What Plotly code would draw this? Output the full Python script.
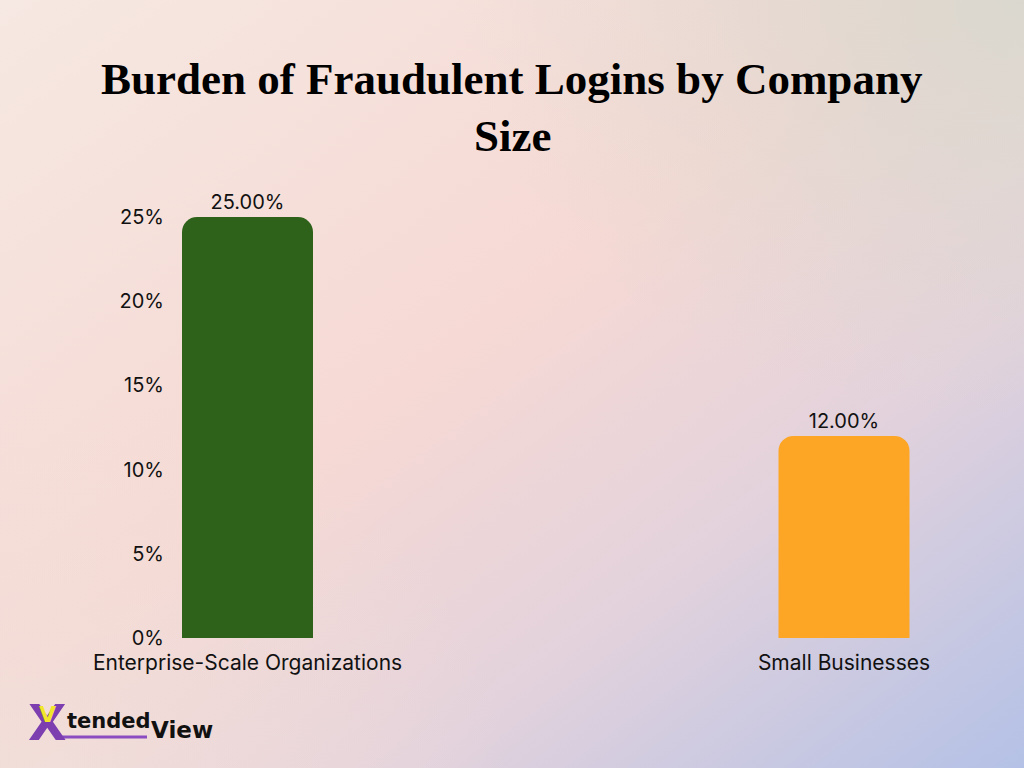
import base64
import plotly.graph_objects as go

categories = ["Enterprise-Scale Organizations", "Small Businesses"]
values = [25.0, 12.0]
bar_colors = ["#2E621A", "#FDA524"]
value_labels = ["25.00%", "12.00%"]
y_tickvals = [0, 5, 10, 15, 20, 25]
y_ticktext = ["0%", "5%", "10%", "15%", "20%", "25%"]

W, H = 1024, 768
L, R, T, B = 170, 24, 180, 130
pw, ph = W - L - R, H - T - B

svg = f'''<svg xmlns="http://www.w3.org/2000/svg" width="{W}" height="{H}" viewBox="0 0 {W} {H}">
<defs>
<linearGradient id="g" x1="0" y1="0" x2="1" y2="1">
<stop offset="0" stop-color="#F6E8E2"/>
<stop offset="0.45" stop-color="#F6D9D4"/>
<stop offset="0.7" stop-color="#E3D2DC"/>
<stop offset="1" stop-color="#B4C1E6"/>
</linearGradient>
<radialGradient id="r" cx="1" cy="0" r="0.55">
<stop offset="0" stop-color="#D9D8CE" stop-opacity="0.95"/>
<stop offset="1" stop-color="#D9D8CE" stop-opacity="0"/>
</radialGradient>
<radialGradient id="bl" cx="0" cy="1" r="0.5">
<stop offset="0" stop-color="#F1E0DA" stop-opacity="0.7"/>
<stop offset="1" stop-color="#F1E0DA" stop-opacity="0"/>
</radialGradient>
</defs>
<rect width="{W}" height="{H}" fill="url(#g)"/>
<rect width="{W}" height="{H}" fill="url(#r)"/>
<rect width="{W}" height="{H}" fill="url(#bl)"/>
</svg>'''
bg_uri = "data:image/svg+xml;base64," + base64.b64encode(svg.encode()).decode()

# x mapping: category 0 center at px 247.5, category 1 at px 844
unit = 844 - 247.5
x0 = -(247.5 - L) / unit
x1 = x0 + pw / unit
# y mapping: 0 at px 638, 25 at px 217
ypx = (638 - 217) / 25.0
ytop = ph / ypx

fig = go.Figure()
fig.add_trace(go.Bar(
    x=list(range(len(categories))),
    y=values,
    marker=dict(color=bar_colors, cornerradius=15, line=dict(width=0)),
    width=131 / unit,
    text=value_labels,
    textposition="outside",
    textfont=dict(family="Inter", size=20, color="#111111"),
    cliponaxis=False,
    hoverinfo="skip",
))

def px2paper_x(px):
    return (px - L) / pw

def px2paper_y(py):
    return (H - B - py) / ph

ann = []
for text, ycen in [("Burden of Fraudulent Logins by Company", 79), ("Size", 136)]:
    ann.append(dict(
        text=text, xref="paper", yref="paper",
        x=px2paper_x(512), y=px2paper_y(ycen),
        xanchor="center", yanchor="middle", showarrow=False,
        font=dict(family="Liberation Serif", size=45, color="#000000", weight=900),
    ))

# Logo
ann.append(dict(text="X", xref="paper", yref="paper", x=px2paper_x(48), y=px2paper_y(723),
                xanchor="center", yanchor="middle", showarrow=False,
                font=dict(family="DejaVu Sans", size=50, color="#7D3FB0", weight="bold")))
ann.append(dict(text="V", xref="paper", yref="paper", x=px2paper_x(48), y=px2paper_y(714),
                xanchor="center", yanchor="middle", showarrow=False,
                font=dict(family="DejaVu Sans", size=22, color="#F2E62A", weight="bold")))
ann.append(dict(text="tended", xref="paper", yref="paper", x=px2paper_x(65), y=px2paper_y(721),
                xanchor="left", yanchor="middle", showarrow=False,
                font=dict(family="DejaVu Sans", size=21, color="#111111", weight="bold")))
ann.append(dict(text="View", xref="paper", yref="paper", x=px2paper_x(149), y=px2paper_y(730),
                xanchor="left", yanchor="middle", showarrow=False,
                font=dict(family="DejaVu Sans", size=23, color="#111111", weight="bold")))

shapes = [
    dict(type="line", xref="paper", yref="paper",
         x0=px2paper_x(62), x1=px2paper_x(147), y0=px2paper_y(737), y1=px2paper_y(737),
         line=dict(color="#8A4CC0", width=3)),
]

fig.update_layout(
    width=W, height=H,
    margin=dict(l=L, r=R, t=T, b=B, pad=0),
    paper_bgcolor="rgba(0,0,0,0)",
    plot_bgcolor="rgba(0,0,0,0)",
    showlegend=False,
    images=[dict(source=bg_uri, xref="paper", yref="paper",
                 x=-L / pw, y=1 + T / ph, sizex=W / pw, sizey=H / ph,
                 xanchor="left", yanchor="top", sizing="stretch", layer="below")],
    xaxis=dict(range=[x0, x1], tickvals=list(range(len(categories))), ticktext=categories,
               showgrid=False, zeroline=False, showline=False, ticks="",
               tickfont=dict(family="Inter", size=21, color="#111111"), ticklabelstandoff=10),
    yaxis=dict(range=[0, ytop], tickvals=y_tickvals, ticktext=y_ticktext,
               showgrid=False, zeroline=False, showline=False, ticks="",
               tickfont=dict(family="Inter", size=20, color="#111111"), ticklabelstandoff=5),
    annotations=ann,
    shapes=shapes,
)

fig.write_html("out.html", config={"displayModeBar": False},
               post_script="document.body.style.margin='0';document.body.style.padding='0';")
